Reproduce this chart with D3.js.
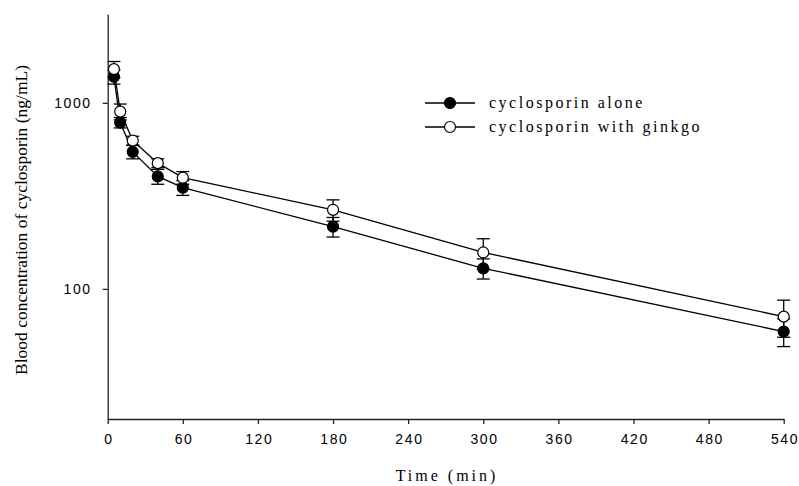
<!DOCTYPE html>
<html>
<head>
<meta charset="utf-8">
<script src="https://cdn.jsdelivr.net/npm/d3@7"></script>
<style>
  body { margin: 0; background: #fff; }
  svg { display: block; }
</style>
</head>
<body>
<svg id="chart" width="799" height="486"></svg>
<script>
// time points (min)
const times = [5, 10, 20, 40, 60, 180, 300, 540];
// cyclosporin alone (ng/mL) with SD
const alone = [1380, 783, 545, 402, 350, 216, 129, 59];
const aloneSd = [120, 50, 45, 37, 32, 26, 16, 10];
// cyclosporin with ginkgo
const ginkgo = [1517, 897, 627, 474, 396, 266, 157, 71];
const ginkgoSd = [150, 88, 34, 26, 31, 35, 29, 16];

const xTicks = [0, 60, 120, 180, 240, 300, 360, 420, 480, 540];
const yTicks = [100, 1000];

const svg = d3.select('#chart');

const x = d3.scaleLinear().domain([0, 540]).range([107.7, 783.7]);
const y = d3.scaleLog().domain([20, 3000]).range([419, 14]);

const series = [
    { name: 'cyclosporin alone', values: alone, sd: aloneSd, fill: '#000' },
    { name: 'cyclosporin with ginkgo', values: ginkgo, sd: ginkgoSd, fill: '#fff' }
];

// axes
const xAxis = svg.append('g')
    .attr('transform', 'translate(0,419)')
    .call(d3.axisBottom(x).tickValues(xTicks).tickSize(5).tickSizeOuter(0).tickPadding(10));

const yAxis = svg.append('g')
    .attr('transform', 'translate(107.7,0)')
    .call(d3.axisLeft(y).tickValues(yTicks).tickFormat(d3.format('d')).tickSize(5).tickSizeOuter(0).tickPadding(11));

[xAxis, yAxis].forEach(a => {
    a.selectAll('path, line').attr('stroke', '#222').attr('stroke-width', 1.3);
    a.selectAll('text')
        .attr('fill', '#000')
        .style('font-family', '"Liberation Sans", Arial, sans-serif')
        .style('font-size', '14px')
        .style('letter-spacing', '1.6px');
});
xAxis.selectAll('text').attr('dx', '0.8px');

// lines
const line = d3.line()
    .x((d, i) => x(times[i]))
    .y(d => y(d));

series.forEach(s => {
    svg.append('path')
        .datum(s.values)
        .attr('d', line)
        .attr('fill', 'none')
        .attr('stroke', '#000')
        .attr('stroke-width', 1.3);
});

// error bars
const cap = 6.5;
series.forEach(s => {
    const g = svg.append('g').attr('stroke', '#000').attr('stroke-width', 1.3);
    s.values.forEach((v, i) => {
        const cx = x(times[i]);
        const yTop = y(v + s.sd[i]);
        const yBot = y(v - s.sd[i]);
        g.append('line').attr('x1', cx).attr('x2', cx).attr('y1', yTop).attr('y2', yBot);
        g.append('line').attr('x1', cx - cap).attr('x2', cx + cap).attr('y1', yTop).attr('y2', yTop);
        g.append('line').attr('x1', cx - cap).attr('x2', cx + cap).attr('y1', yBot).attr('y2', yBot);
    });
});

// markers
series.forEach(s => {
    svg.append('g')
        .selectAll('circle')
        .data(s.values)
        .enter()
        .append('circle')
        .attr('cx', (d, i) => x(times[i]))
        .attr('cy', d => y(d))
        .attr('r', 5.5)
        .attr('fill', s.fill)
        .attr('stroke', '#000')
        .attr('stroke-width', 1.2);
});

// legend
const legend = svg.append('g').attr('transform', 'translate(425,103)');
series.forEach((s, i) => {
    const row = legend.append('g').attr('transform', `translate(0,${i * 24})`);
    row.append('line')
        .attr('x1', 0).attr('x2', 50)
        .attr('stroke', '#000').attr('stroke-width', 1.3);
    row.append('circle')
        .attr('cx', 25).attr('r', 5.5)
        .attr('fill', s.fill).attr('stroke', '#000').attr('stroke-width', 1.2);
    row.append('text')
        .attr('x', 64).attr('dy', '0.32em')
        .style('font-family', '"Liberation Serif", "Times New Roman", serif')
        .style('font-size', '16px')
        .style('letter-spacing', '2.5px')
        .text(s.name);
});

// axis titles
svg.append('text')
    .attr('x', 447)
    .attr('y', 481)
    .attr('text-anchor', 'middle')
    .style('font-family', '"Liberation Serif", "Times New Roman", serif')
    .style('font-size', '16px')
    .style('letter-spacing', '3px')
    .text('Time (min)');

svg.append('text')
    .attr('transform', 'translate(27,220) rotate(-90)')
    .attr('text-anchor', 'middle')
    .style('font-family', '"Liberation Serif", "Times New Roman", serif')
    .style('font-size', '17.5px')
    .text('Blood concentration of cyclosporin (ng/mL)');
</script>
</body>
</html>
